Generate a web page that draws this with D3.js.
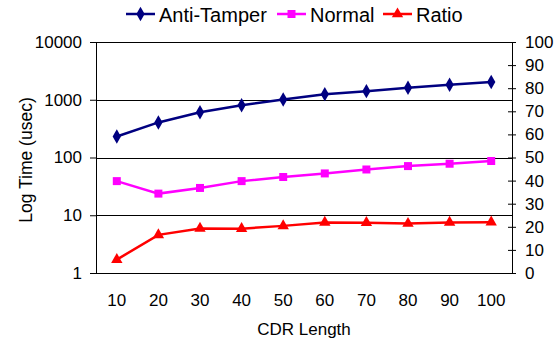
<!DOCTYPE html>
<html>
<head>
<meta charset="utf-8">
<script src="https://cdn.jsdelivr.net/npm/d3@7"></script>
<style>
  body { margin: 0; background: #fff; }
  svg text { font-family: "Liberation Sans", Arial, sans-serif; }
</style>
</head>
<body>
<div id="chart"></div>
<script>
// chart data
const cdrLengths = [10, 20, 30, 40, 50, 60, 70, 80, 90, 100];
const antiTamper = [231, 405, 606, 803, 1010, 1250, 1410, 1615, 1820, 2025];
const normal = [39, 23.7, 29.7, 39, 46, 53, 62, 71, 78, 87];
const ratio = [5.8, 16.5, 19.3, 19.2, 20.4, 21.9, 21.8, 21.4, 21.9, 22];
const logTicks = [1, 10, 100, 1000, 10000];
const ratioTicks = d3.range(0, 101, 10);

const width = 555, height = 343;
const margin = {top: 42, right: 43, bottom: 70, left: 96};
const innerW = width - margin.left - margin.right;
const innerH = 273 - margin.top;

const svg = d3.select('#chart').append('svg')
  .attr('width', width)
  .attr('height', height);

const g = svg.append('g')
  .attr('transform', 'translate(' + margin.left + ',' + margin.top + ')');

const x = d3.scaleBand().domain(cdrLengths).range([0, innerW]);
const yLog = d3.scaleLog().domain([1, 10000]).range([innerH, 0]);
const yRatio = d3.scaleLinear().domain([0, 100]).range([innerH, 0]);
const cx = d => x(d) + x.bandwidth() / 2;

// grid lines on the log decades
g.append('g').selectAll('line')
  .data(logTicks)
  .enter().append('line')
  .attr('x1', 0).attr('x2', innerW)
  .attr('y1', d => Math.round(yLog(d)) + 0.5)
  .attr('y2', d => Math.round(yLog(d)) + 0.5)
  .attr('stroke', '#000')
  .attr('stroke-width', 1);

// left axis
const leftAxis = g.append('g')
  .call(d3.axisLeft(yLog).tickValues(logTicks).tickFormat(d3.format('d')).tickSize(6).tickPadding(8));
leftAxis.select('.domain').attr('stroke', '#000');
leftAxis.selectAll('text').attr('font-size', 17).attr('fill', '#000');

// right axis, ticks crossing the line
const rightAxis = g.append('g')
  .attr('transform', 'translate(' + innerW + ',0)')
  .call(d3.axisRight(yRatio).tickValues(ratioTicks).tickSize(4).tickPadding(9));
rightAxis.select('.domain').attr('d', 'M0.5,0V' + innerH);
rightAxis.selectAll('.tick line').attr('x1', -4).attr('x2', 4);
rightAxis.selectAll('text').attr('font-size', 17).attr('fill', '#000');

// bottom axis line and labels (no ticks)
g.append('line')
  .attr('x1', -6).attr('x2', innerW + 4)
  .attr('y1', innerH + 0.5).attr('y2', innerH + 0.5)
  .attr('stroke', '#000');

g.append('g').selectAll('text')
  .data(cdrLengths)
  .enter().append('text')
  .attr('x', d => cx(d))
  .attr('y', innerH + 33)
  .attr('text-anchor', 'middle')
  .attr('font-size', 17)
  .text(d => d);

svg.append('text')
  .attr('x', margin.left + innerW / 2)
  .attr('y', 335)
  .attr('text-anchor', 'middle')
  .attr('font-size', 17)
  .text('CDR Length');

svg.append('text')
  .attr('transform', 'translate(32,160) rotate(-90)')
  .attr('text-anchor', 'middle')
  .attr('font-size', 17.5)
  .text('Log Time (usec)');

// series
const series = [
  {name: 'Anti-Tamper', values: antiTamper, y: yLog, color: '#000080', symbol: d3.symbolDiamond, size: 60},
  {name: 'Normal', values: normal, y: yLog, color: '#FF00FF', symbol: d3.symbolSquare, size: 64},
  {name: 'Ratio', values: ratio, y: yRatio, color: '#FF0000', symbol: d3.symbolTriangle, size: 56}
];

const line = (s) => d3.line()
  .x((d, i) => cx(cdrLengths[i]))
  .y(d => s.y(d));

series.forEach(s => {
  g.append('path')
    .datum(s.values)
    .attr('d', line(s))
    .attr('fill', 'none')
    .attr('stroke', s.color)
    .attr('stroke-width', 2.5);

  g.append('g').selectAll('path')
    .data(s.values)
    .enter().append('path')
    .attr('d', d3.symbol().type(s.symbol).size(s.size))
    .attr('transform', (d, i) => 'translate(' + cx(cdrLengths[i]) + ',' + s.y(d) + ')')
    .attr('fill', s.color);
});

// legend
const legendX = [126, 277, 383];
const legend = svg.append('g');
const item = legend.selectAll('g')
  .data(series)
  .enter().append('g')
  .attr('transform', (d, i) => 'translate(' + legendX[i] + ',14)');

item.append('line')
  .attr('x1', 0).attr('x2', 29)
  .attr('stroke', d => d.color)
  .attr('stroke-width', 2.5);

item.append('path')
  .attr('d', d => d3.symbol().type(d.symbol).size(d.size)())
  .attr('transform', 'translate(14.5,0)')
  .attr('fill', d => d.color);

item.append('text')
  .attr('x', 33)
  .attr('y', 8)
  .attr('font-size', 20)
  .text(d => d.name);
</script>
</body>
</html>
